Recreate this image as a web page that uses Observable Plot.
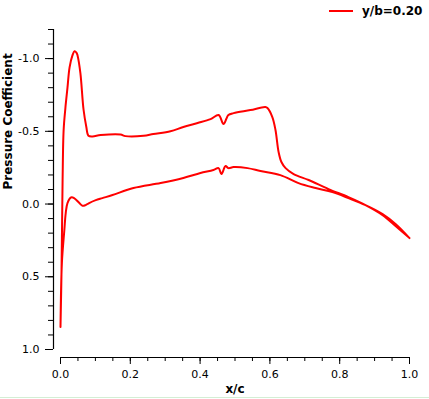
<!DOCTYPE html>
<html>
<head>
<meta charset="utf-8">
<script src="https://cdn.jsdelivr.net/npm/d3@7"></script>
<script src="https://cdn.jsdelivr.net/npm/@observablehq/plot@0.6"></script>
<style>
  html, body { margin: 0; padding: 0; background: #fff; }
  #wrap { position: relative; width: 429px; height: 399px; font-family: "DejaVu Sans", Verdana, sans-serif; }
  #legend { position: absolute; left: 328px; top: 2px; height: 18px; display: flex; align-items: center; font-weight: bold; font-size: 12px; color: #000; }
  #legend svg { margin-right: 8px; }
  #edge { position: absolute; left: 0; top: 397px; width: 429px; height: 1px; background: #d4eed4; }
</style>
</head>
<body>
<div id="wrap">
  <div id="chart"></div>
  <div id="legend"><svg width="26" height="4"><line x1="1" y1="2" x2="25" y2="2" stroke="#ff0000" stroke-width="2"/></svg><span id="legendText"></span></div>
  <div id="edge"></div>
</div>
<script>
const seriesLabel = "y/b=0.20";
const xLabel = "x/c";
const yLabel = "Pressure Coefficient";

// Upper (suction) surface, leading edge -> trailing edge
const xUpper = [0.000, 0.003, 0.006, 0.009, 0.014, 0.020, 0.026, 0.034, 0.040, 0.046, 0.049, 0.057, 0.066, 0.074, 0.080, 0.092, 0.115, 0.172, 0.186, 0.238, 0.266, 0.315, 0.352, 0.393, 0.430, 0.453, 0.467, 0.476, 0.481, 0.496, 0.544, 0.587, 0.593, 0.607, 0.616, 0.625, 0.633, 0.645, 0.668, 0.711, 0.768, 0.825, 0.874, 0.923, 0.960, 1.000];
const cpUpper = [0.845, 0.45, -0.165, -0.51, -0.66, -0.80, -0.94, -1.02, -1.05, -1.04, -1.02, -0.90, -0.65, -0.53, -0.47, -0.465, -0.474, -0.478, -0.467, -0.469, -0.481, -0.50, -0.53, -0.557, -0.584, -0.612, -0.55, -0.59, -0.612, -0.625, -0.646, -0.667, -0.66, -0.598, -0.509, -0.357, -0.289, -0.247, -0.206, -0.165, -0.103, -0.048, 0.007, 0.076, 0.151, 0.234];

// Lower (pressure) surface, leading edge -> trailing edge
const xLower = [0.000, 0.004, 0.011, 0.015, 0.020, 0.030, 0.039, 0.054, 0.063, 0.072, 0.082, 0.101, 0.120, 0.149, 0.209, 0.287, 0.352, 0.401, 0.438, 0.453, 0.461, 0.473, 0.481, 0.496, 0.536, 0.573, 0.630, 0.682, 0.731, 0.779, 0.825, 0.874, 0.923, 0.960, 1.000];
const cpLower = [0.845, 0.405, 0.18, 0.062, -0.007, -0.045, -0.041, -0.007, 0.012, 0.007, -0.007, -0.027, -0.041, -0.062, -0.11, -0.144, -0.179, -0.213, -0.234, -0.247, -0.206, -0.261, -0.247, -0.254, -0.247, -0.227, -0.199, -0.144, -0.11, -0.082, -0.041, 0.007, 0.069, 0.137, 0.234];

const xMajorTicks = [0.0, 0.2, 0.4, 0.6, 0.8, 1.0];
const xMinorTicks = d3.range(0, 1.0001, 0.05);
const yMajorTicks = [-1.0, -0.5, 0.0, 0.5, 1.0];
const yMinorTicks = d3.range(-1.2, 1.0001, 0.1);

// One continuous path: trailing edge -> leading edge along the upper surface, then back along the lower surface
const pts = [];
for (let i = xUpper.length - 1; i >= 0; i--) pts.push({x: xUpper[i], cp: cpUpper[i]});
for (let i = 0; i < xLower.length; i++) pts.push({x: xLower[i], cp: cpLower[i]});

const fmt = d => Math.abs(d) < 1e-9 ? "0.0" : d.toFixed(1);

const chart = Plot.plot({
  width: 429,
  height: 399,
  marginLeft: 60,
  marginRight: 20,
  marginTop: 29,
  marginBottom: 50,
  style: {fontFamily: "'DejaVu Sans', Verdana, sans-serif", fontSize: "11px", color: "#000", background: "transparent"},
  x: {domain: [0, 1]},
  y: {domain: [-1.2, 1.0], reverse: true},
  marks: [
    Plot.ruleX([0], {y1: -1.2, y2: 1.0, dx: -7, stroke: "#000", strokeWidth: 1.2}),
    Plot.ruleY([1.0], {x1: 0, x2: 1, dy: 8, stroke: "#000", strokeWidth: 1.2}),
    Plot.axisY(yMinorTicks, {tickSize: 5, dx: -7, tickFormat: () => "", strokeWidth: 1, label: null}),
    Plot.axisY(yMajorTicks, {tickSize: 8, tickPadding: 6, dx: -7, tickFormat: fmt, strokeWidth: 1, label: null}),
    Plot.axisX(xMinorTicks, {tickSize: 4, dy: 8, tickFormat: () => "", strokeWidth: 1, label: null}),
    Plot.axisX(xMajorTicks, {tickSize: 7, tickPadding: 6, dy: 8, tickFormat: fmt, strokeWidth: 1, label: null}),
    Plot.text([xLabel], {frameAnchor: "bottom", dy: 40, text: d => d, fontWeight: "bold", fontSize: 12, lineAnchor: "middle"}),
    Plot.text([yLabel], {frameAnchor: "left", dx: -52, rotate: -90, text: d => d, fontWeight: "bold", fontSize: 12, lineAnchor: "middle"}),
    Plot.line(pts, {x: "x", y: "cp", stroke: "#ff0000", strokeWidth: 2, strokeLinejoin: "round", curve: "catmull-rom"})
  ]
});
document.getElementById("chart").appendChild(chart);
document.getElementById("legendText").textContent = seriesLabel;
</script>
</body>
</html>
